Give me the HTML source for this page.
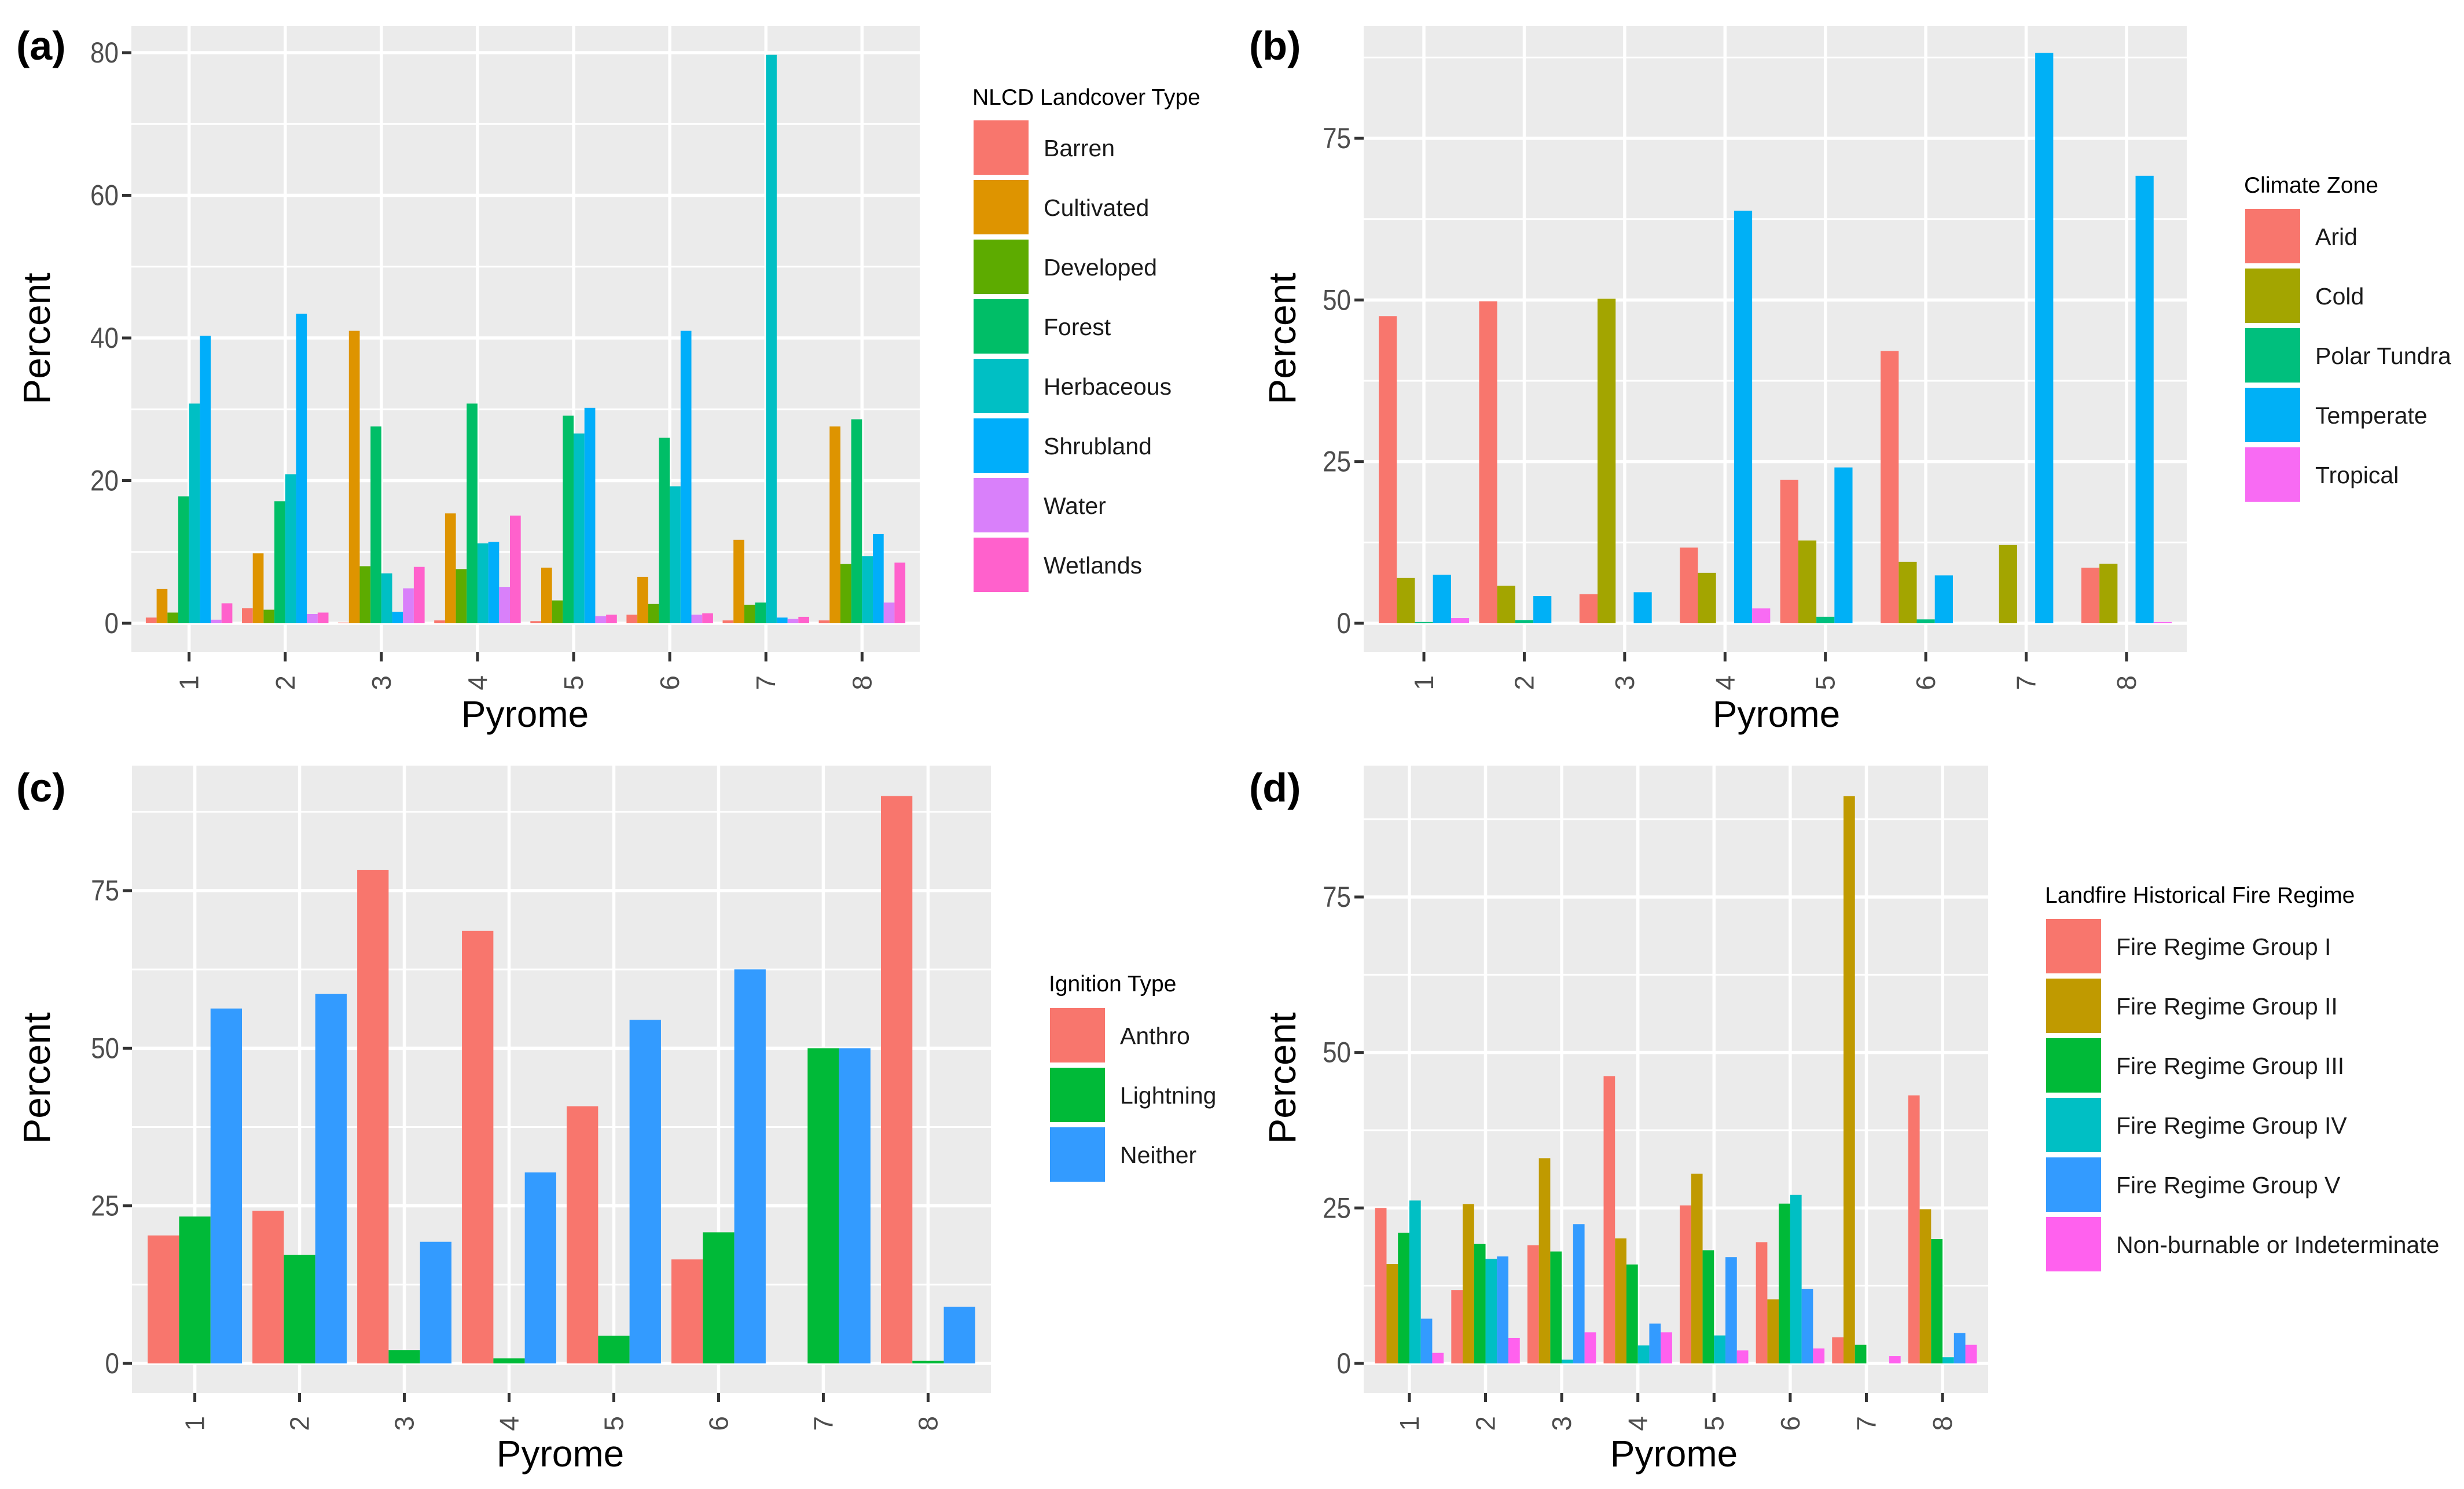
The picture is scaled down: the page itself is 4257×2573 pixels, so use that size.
<!DOCTYPE html>
<html><head><meta charset="utf-8">
<style>
html,body{margin:0;padding:0;background:#fff;}
svg{display:block;}
text{font-family:"Liberation Sans",sans-serif;}
</style></head>
<body>
<svg id="fig" xmlns="http://www.w3.org/2000/svg" width="4257" height="2573" viewBox="0 0 4257 2573">
<rect width="4257" height="2573" fill="#fff"/>
</svg>
<script>
// ---- Data ----
const pyromes = ["1","2","3","4","5","6","7","8"];

const landcoverNames = ["Barren","Cultivated","Developed","Forest","Herbaceous","Shrubland","Water","Wetlands"];
const landcoverColors = ["#F8766D","#DE9400","#5DAB00","#00BE67","#00BFC4","#00AEFA","#D980FA","#FF61CC"];
const landcoverValues = [
  [0.8,4.8,1.5,17.8,30.8,40.3,0.5,2.8],
  [2.1,9.8,1.9,17.1,20.9,43.4,1.3,1.5],
  [0.1,41.0,8.0,27.6,7.0,1.6,4.9,7.9],
  [0.4,15.4,7.6,30.8,11.2,11.4,5.1,15.1],
  [0.3,7.8,3.2,29.1,26.6,30.2,1.0,1.2],
  [1.2,6.5,2.7,26.0,19.2,41.0,1.2,1.4],
  [0.4,11.7,2.6,2.9,79.7,0.8,0.6,0.9],
  [0.4,27.6,8.3,28.6,9.4,12.5,2.9,8.5]
];
const landcoverTicks = [0,20,40,60,80];

const climateNames = ["Arid","Cold","Polar Tundra","Temperate","Tropical"];
const climateColors = ["#F8766D","#A3A500","#00BF7D","#00B0F6","#F86BF3"];
const climateValues = [
  [47.5,7.0,0.2,7.5,0.8],
  [49.8,5.8,0.5,4.2,0],
  [4.5,50.2,0,4.8,0],
  [11.7,7.8,0,63.8,2.3],
  [22.2,12.8,1.0,24.1,0],
  [42.1,9.5,0.6,7.4,0],
  [0,12.1,0,88.2,0],
  [8.6,9.2,0,69.2,0.2]
];
const climateTicks = [0,25,50,75];

const ignitionNames = ["Anthro","Lightning","Neither"];
const ignitionColors = ["#F8766D","#00BA38","#339BFF"];
const ignitionValues = [
  [20.3,23.3,56.3],
  [24.2,17.2,58.6],
  [78.3,2.1,19.3],
  [68.6,0.8,30.3],
  [40.8,4.4,54.5],
  [16.5,20.8,62.5],
  [0,50.0,50.0],
  [90.0,0.4,9.0]
];
const ignitionTicks = [0,25,50,75];

const fireNames = ["Fire Regime Group I","Fire Regime Group II","Fire Regime Group III","Fire Regime Group IV","Fire Regime Group V","Non-burnable or Indeterminate"];
const fireColors = ["#F8766D","#C09A00","#00BA38","#00BFC4","#339BFF","#FF61EE"];
const fireValues = [
  [25.0,16.0,21.0,26.2,7.2,1.7],
  [11.8,25.6,19.2,16.8,17.2,4.1],
  [19.0,33.0,18.0,0.6,22.4,5.0],
  [46.2,20.1,15.9,2.9,6.4,5.0],
  [25.4,30.5,18.2,4.5,17.1,2.1],
  [19.5,10.3,25.7,27.1,12.0,2.4],
  [4.2,91.2,3.0,0,0,1.2],
  [43.1,24.8,20.0,1.0,4.9,3.0]
];
const fireTicks = [0,25,50,75];

// ---- Drawing ----
const NS="http://www.w3.org/2000/svg";
const svg=document.getElementById('fig');
function mk(tag,attrs,parent){const e=document.createElementNS(NS,tag);for(const k in attrs)e.setAttribute(k,attrs[k]);(parent||svg).appendChild(e);return e;}

function panel(cfg){
  const g=mk('g',{});
  
  
  const L=cfg.left,R=cfg.right,T=cfg.top,B=cfg.bottom,W=R-L;
  const yv=v=>cfg.zeroY - v*cfg.unitPx;
  const xc=i=>L+(i+0.6)/8.2*W;
  const bg=mk('rect',{x:L,y:T,width:W,height:B-T,fill:'#EBEBEB'},g);
  
  
  const step=cfg.ticks[1]-cfg.ticks[0];
  for(let v=-step/2; yv(v)>=T; v+=step){
    const y=yv(v); if(y>B) continue;
    const ln=mk('line',{x1:L,x2:R,y1:y,y2:y,stroke:'#fff','stroke-width':3},g);
    
    
  }
  cfg.ticks.forEach(v=>{
    const y=yv(v);
    const ln=mk('line',{x1:L,x2:R,y1:y,y2:y,stroke:'#fff','stroke-width':5.5},g);
    
    
    const tk=mk('line',{x1:L-16,x2:L,y1:y,y2:y,stroke:'#333','stroke-width':5},g);
    
    
    const tx=L-22;
    const t=mk('text',{x:tx,y:y+17,'text-anchor':'end','font-size':50,fill:'#4D4D4D',transform:`translate(${tx} 0) scale(0.88 1) translate(${-tx} 0)`},g);
    t.textContent=v;
    
    
  });
  pyromes.forEach((p,i)=>{
    const x=xc(i);
    const ln=mk('line',{x1:x,x2:x,y1:T,y2:B,stroke:'#fff','stroke-width':5.5},g);
    
    
    const tk=mk('line',{x1:x,x2:x,y1:B,y2:B+16,stroke:'#333','stroke-width':5},g);
    
    
    const ty=B+40;
    const t=mk('text',{x:x+16,y:ty,'text-anchor':'end','font-size':46,fill:'#4D4D4D',transform:`rotate(-90 ${x+16} ${ty})`},g);
    t.textContent=p;
    
    
  });
  const n=cfg.names.length, catW=W/8.2, bw=catW*0.9/n;
  cfg.values.forEach((row,i)=>{
    const start=xc(i)-catW*0.45;
    row.forEach((v,j)=>{
      if(v<=0) return;
      const y=yv(v);
      const r=mk('rect',{x:start+j*bw,y:y,width:bw,height:cfg.zeroY-y,fill:cfg.colors[j]},g);
      
      
    });
  });
  const yt=mk('text',{x:cfg.ytX,y:cfg.ytY,'text-anchor':'middle','font-size':66,fill:'#000',transform:`rotate(-90 ${cfg.ytX} ${cfg.ytY})`},g);
  yt.textContent='Percent';
  
  
  const xt=mk('text',{x:cfg.xtX,y:cfg.xtY,'text-anchor':'middle','font-size':64,fill:'#000'},g);
  xt.textContent='Pyrome';
  
  
  const pl=mk('text',{x:cfg.labX,y:cfg.labY,'font-size':70,'font-weight':'bold',fill:'#000'},g);
  pl.textContent='('+cfg.id.replace('panel-','')+')';
  
  
  const lg=mk('g',{},g);
  
  
  const ltt=mk('text',{x:cfg.legX,y:cfg.legTitleY,'font-size':39,fill:'#000'},lg);
  ltt.textContent=cfg.legTitle;
  
  
  cfg.names.forEach((nm,j)=>{
    const ky=cfg.legKeyY+j*103;
    const kr=mk('rect',{x:cfg.legX+2,y:ky,width:95,height:94,fill:cfg.colors[j]},lg);
    
    
    const lt=mk('text',{x:cfg.legX+123,y:ky+62,'font-size':41,fill:'#1A1A1A'},lg);
    lt.textContent=nm;
    
    
  });
}

panel({id:'panel-a',names:landcoverNames,colors:landcoverColors,values:landcoverValues,ticks:landcoverTicks,
  left:227,right:1589,top:45,bottom:1127,zeroY:1077,unitPx:(1077-91)/80,
  ytX:86,ytY:585,xtX:907,xtY:1256,labX:28,labY:103,
  legTitle:'NLCD Landcover Type',legX:1680,legTitleY:181,legKeyY:208});
panel({id:'panel-b',names:climateNames,colors:climateColors,values:climateValues,ticks:climateTicks,
  left:2356,right:3778,top:45,bottom:1127,zeroY:1077,unitPx:(1077-239)/75,
  ytX:2238,ytY:585,xtX:3069,xtY:1256,labX:2158,labY:103,
  legTitle:'Climate Zone',legX:3877,legTitleY:333,legKeyY:361});
panel({id:'panel-c',names:ignitionNames,colors:ignitionColors,values:ignitionValues,ticks:ignitionTicks,
  left:228,right:1712,top:1323,bottom:2407,zeroY:2356,unitPx:(2356-1539)/75,
  ytX:86,ytY:1863,xtX:968,xtY:2534,labX:28,labY:1385,
  legTitle:'Ignition Type',legX:1812,legTitleY:1713,legKeyY:1742});
panel({id:'panel-d',names:fireNames,colors:fireColors,values:fireValues,ticks:fireTicks,
  left:2356,right:3435,top:1323,bottom:2407,zeroY:2356,unitPx:(2356-1550)/75,
  ytX:2238,ytY:1863,xtX:2892,xtY:2534,labX:2158,labY:1385,
  legTitle:'Landfire Historical Fire Regime',legX:3533,legTitleY:1560,legKeyY:1588});
</script>
</body></html>
